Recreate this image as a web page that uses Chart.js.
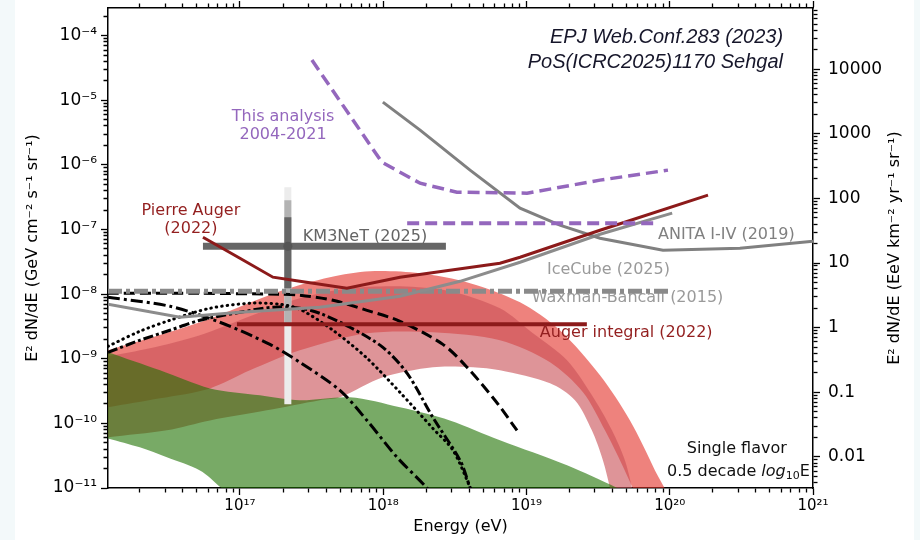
<!DOCTYPE html>
<html>
<head>
<meta charset="utf-8">
<script src="https://cdn.jsdelivr.net/npm/chart.js@4.4.1/dist/chart.umd.min.js"></script>
<style>
  body { margin: 0; background: #fff; }
  #wrap { width: 920px; height: 540px; position: relative; }
</style>
</head>
<body>
<div id="wrap"><canvas id="flux-chart"></canvas></div>
<script>
// energy in eV, flux E^2 dN/dE in GeV cm^-2 s^-1 sr^-1
const xMin = 1.2e16, xMax = 1e21;
const yMin = 1e-11, yMax = 2.68e-4;
const eevPerGev = 3.3e8; // right axis: EeV km^-2 yr^-1 sr^-1

// This analysis 2004-2021 (differential + integral)
const anaDiffE = [3.18e17, 9.79e17, 1.81e18, 3.27e18, 1.01e19, 3.26e19, 9.72e19];
const anaDiffF = [4.19e-5, 1.10e-6, 5.21e-7, 3.78e-7, 3.65e-7, 5.81e-7, 8.30e-7];
const anaIntE = [1.47e18, 8.28e19];
const anaIntF = [1.25e-7, 1.25e-7];

// ANITA I-IV (2019)
const anitaE = [9.95e17, 1.81e18, 4.04e18, 9.02e18, 1.71e19, 3.26e19, 8.97e19, 3.09e20, 1e21];
const anitaF = [9.37e-6, 3.45e-6, 8.30e-7, 2.14e-7, 1.17e-7, 7.33e-8, 4.79e-8, 5.14e-8, 6.59e-8];

// Pierre Auger (2022) differential + integral
const augerE = [5.52e16, 1e17, 1.70e17, 2.62e17, 5.58e17, 1.31e18, 2.92e18, 6.53e18, 9.02e18, 3.26e19, 1.85e20];
const augerF = [7.60e-8, 3.60e-8, 1.83e-8, 1.58e-8, 1.23e-8, 1.83e-8, 2.34e-8, 3.01e-8, 3.72e-8, 9.75e-8, 3.40e-7];
const augerIntE = [9.53e16, 2.64e19];
const augerIntF = [3.42e-9, 3.42e-9];

// KM3NeT (2025) event: central value, energy range, 1/2/3 sigma flux ranges
const km3E = [2.16e17];
const km3F = [5.52e-8];
const km3RangeE = [5.52e16, 2.74e18];
const km3Sig1 = [1.55e-7, 1.23e-8];
const km3Sig2 = [2.84e-7, 3.30e-9];
const km3Sig3 = [4.52e-7, 1.97e-10];

// IceCube (2025)
const iceE = [1.2e16, 3.81e16, 1e17, 3.61e17, 1.31e18, 3.44e18, 9.02e18, 3.26e19, 1.04e20];
const iceF = [6.97e-9, 4.39e-9, 5.24e-9, 6.27e-9, 9.27e-9, 1.58e-8, 3.12e-8, 8.45e-8, 1.79e-7];

// Waxman-Bahcall (2015)
const wbE = [1.2e16, 1e20];
const wbF = [1.11e-8, 1.11e-8];

// cosmogenic model curves (black)
const dotE = [1.2e16, 2.0e16, 3.25e16, 6.18e16, 1.175e17, 1.90e17, 2.62e17, 4.46e17, 7.71e17, 1.31e18, 2.22e18, 3.07e18, 4.04e18, 4.37e18];
const dotF = [1.56e-9, 2.66e-9, 3.94e-9, 6.04e-9, 7.23e-9, 6.97e-9, 5.83e-9, 2.76e-9, 1.02e-9, 3.02e-10, 8.38e-11, 3.82e-11, 1.02e-11, 6.4e-12];
const dashDotE = [1.2e16, 3.25e16, 7.24e16, 1.62e17, 2.62e17, 4.99e17, 7.71e17, 1.25e18, 2.02e18, 2.49e18];
const dashDotF = [8.95e-9, 6.49e-9, 3.67e-9, 1.67e-9, 8.81e-10, 3.24e-10, 1.11e-10, 2.98e-11, 1.0e-11, 5.4e-12];
const dashE = [1.2e16, 5.26e16, 1.90e17, 2.62e17, 4.46e17, 7.71e17, 1.31e18, 2.61e18, 3.85e18, 6.03e18, 8.59e18];
const dashF = [1.03e-8, 1.03e-8, 9.95e-9, 9.62e-9, 8.04e-9, 5.62e-9, 3.80e-9, 1.67e-9, 7.38e-10, 2.28e-10, 7.80e-11];
const longE = [1.2e16, 2.0e16, 3.25e16, 5.26e16, 1e17, 1.70e17, 2.62e17, 3.61e17, 5.86e17, 9.95e17, 1.47e18, 2.22e18, 3.44e18, 4.04e18, 4.37e18];
const longF = [1.26e-9, 1.93e-9, 2.76e-9, 3.94e-9, 5.24e-9, 6.27e-9, 6.04e-9, 5.06e-9, 3.07e-9, 1.50e-9, 5.96e-10, 1.24e-10, 2.67e-11, 1.02e-11, 6.4e-12];

// model bands: upper edge left->right, lower edge right->left
const salmonUpE = [1.2e16, 5.26e16, 1.90e17, 4.25e17, 8.09e17, 1.81e18, 4.04e18, 9.02e18, 1.71e19, 3.26e19, 5.28e19, 7.89e19, 9.72e19];
const salmonUpF = [1.35e-9, 3.67e-9, 1.11e-8, 1.83e-8, 2.26e-8, 2.10e-8, 1.48e-8, 7.48e-9, 2.76e-9, 5.55e-10, 1.11e-10, 1.87e-11, 6.4e-12];
const salmonLoE = [6.0e19, 5.53e19, 4.50e19, 3.53e19, 2.48e19, 1.46e19, 6.53e18, 2.22e18, 7.71e17, 2.62e17, 1.175e17, 6.18e16, 2.77e16, 1.2e16];
const salmonLoF = [6.4e-12, 9.86e-12, 2.67e-11, 7.80e-11, 3.02e-10, 8.81e-10, 1.93e-9, 2.57e-9, 2.48e-9, 1.35e-9, 6.62e-10, 3.48e-10, 2.44e-10, 1.77e-10];

const pinkUpE = [1.2e16, 2.355e16, 5.26e16, 1.175e17, 2.62e17, 5.86e17, 1.31e18, 2.92e18, 6.53e18, 1.11e19, 1.92e19, 3.01e19, 3.95e19, 4.87e19, 5.46e19, 5.62e19];
const pinkUpF = [1.09e-9, 1.45e-9, 2.31e-9, 4.55e-9, 8.63e-9, 1.23e-8, 1.32e-8, 1.11e-8, 6.04e-9, 2.48e-9, 9.46e-10, 2.28e-10, 7.80e-11, 2.67e-11, 9.86e-12, 6.4e-12];
const pinkLoE = [3.95e19, 3.83e19, 3.42e19, 2.86e19, 2.18e19, 1.46e19, 6.53e18, 4.24e18, 2.22e18, 9.95e17, 4.99e17, 3.61e17, 1.54e17, 6.18e16, 3.09e16, 1.2e16];
const pinkLoF = [6.4e-12, 9.86e-12, 2.67e-11, 7.80e-11, 2.28e-10, 4.17e-10, 6.62e-10, 7.38e-10, 7.38e-10, 5.16e-10, 2.53e-10, 2.28e-10, 1.59e-10, 1.11e-10, 7.80e-11, 6.08e-11];

const greenUpE = [1.2e16, 2.77e16, 6.18e16, 1.38e17, 2.62e17, 5.86e17, 1.31e18, 2.92e18, 6.53e18, 1.92e19, 4.29e19, 6.19e19];
const greenUpF = [1.26e-9, 6.62e-10, 3.48e-10, 2.72e-10, 2.28e-10, 2.53e-10, 1.77e-10, 1.11e-10, 5.46e-11, 2.24e-11, 1.0e-11, 6.4e-12];
const greenLoE = [1.07e17, 5.26e16, 3.09e16, 2.0e16, 1.2e16];
const greenLoF = [6.4e-12, 1.87e-11, 2.98e-11, 4.26e-11, 5.86e-11];

// tick labels
const xLabelled = [1e17, 1e18, 1e19, 1e20, 1e21];
const yLabelled = [1e-11, 1e-10, 1e-9, 1e-8, 1e-7, 1e-6, 1e-5, 1e-4];
const y2Labelled = [0.01, 0.1, 1, 10, 100, 1000, 10000];

// text notes placed in data coordinates
const notes = [
  {text: 'This analysis', e: 2.0e17, f: 5.5e-6, color: '#9467bd', align: 'center'},
  {text: '2004-2021', e: 2.0e17, f: 2.88e-6, color: '#9467bd', align: 'center'},
  {text: 'Pierre Auger', e: 4.55e16, f: 1.92e-7, color: '#931f1f', align: 'center'},
  {text: '(2022)', e: 4.55e16, f: 1.01e-7, color: '#931f1f', align: 'center'},
  {text: 'KM3NeT (2025)', e: 2.75e17, f: 7.6e-8, color: '#646464', align: 'left'},
  {text: 'ANITA I-IV (2019)', e: 8.28e19, f: 8.17e-8, color: '#808080', align: 'left'},
  {text: 'IceCube (2025)', e: 1.39e19, f: 2.34e-8, color: '#9a9a9a', align: 'left'},
  {text: 'Auger integral (2022)', e: 1.24e19, f: 2.48e-9, color: '#931f1f', align: 'left'},
  {text: 'Single flavor', e: 2.94e20, f: 4.1e-11, color: '#111', align: 'center'}
];
const wbNote = {text: 'Waxman-Bahcall (2015)', e: 1.09e19, f: 8.63e-9, color: '#9a9a9a', align: 'left'};
const refNotes = [
  {text: 'EPJ Web.Conf.283 (2023)', e: 6.18e20, f: 9.5e-5},
  {text: 'PoS(ICRC2025)1170 Sehgal', e: 6.18e20, f: 3.92e-5}
];
const binNote = {e: 9.5e20, f: 1.81e-11};

const SUP = '⁻⁰¹²³⁴⁵⁶⁷⁸⁹';
function sup(s) {
  return String(s).split('').map(c => SUP['-0123456789'.indexOf(c)]).join('');
}
function pts(E, F) {
  return E.map((e, i) => ({x: e, y: F[i]}));
}
function curve(label, E, F, color, width, dash, order, extra) {
  return Object.assign({
    label: label, data: pts(E, F), borderColor: color, borderWidth: width,
    borderDash: dash || [], pointRadius: 0, fill: false, tension: 0, order: order, clip: 0
  }, extra || {});
}
function band(label, upE, upF, loE, loF, color, order) {
  return {
    label: label, data: pts(upE.concat(loE), upF.concat(loF)),
    borderWidth: 0, borderColor: 'rgba(0,0,0,0)', backgroundColor: color,
    fill: 'shape', pointRadius: 0, tension: 0.3, capBezierPoints: false, order: order, clip: 0
  };
}
function logTicks(min, max) {
  let ticks = [];
  for (let d = Math.floor(Math.log10(min)); d <= Math.ceil(Math.log10(max)); d++) {
    for (let m = 1; m <= 9; m++) {
      let v = m * Math.pow(10, d);
      if (v >= min * 0.9999 && v <= max * 1.0001) ticks.push({value: v, major: m === 1});
    }
  }
  return ticks;
}
function isLabelled(v, list) {
  return list.some(t => Math.abs(v / t - 1) < 1e-6);
}
// minor ticks shorter: dash pattern, start side depends on axis position
const dashFromAxis = ctx => (ctx.tick && ctx.tick.major) ? [] : [4, 20];
const dashToAxis = ctx => (ctx.tick && ctx.tick.major) ? [] : [0, 2.5, 4, 20];

function axisGrid(dashFn) {
  return {drawOnChartArea: false, drawTicks: true, tickLength: 7, tickColor: '#000', tickWidth: 1.3, tickBorderDash: dashFn};
}
const border = {display: true, color: '#000', width: 1.5};

// fixed box sizes so the plot area sits where the original one does
function fixBox(size) {
  return scale => {
    if (scale.isHorizontal()) scale.height = size; else scale.width = size;
    scale.paddingTop = 0; scale.paddingBottom = 0;
    scale.paddingLeft = 0; scale.paddingRight = 0;
  };
}

Chart.defaults.font.family = '"DejaVu Sans", sans-serif';
Chart.defaults.color = '#000';

function drawNote(ctx, n, xs, ys) {
  ctx.fillStyle = n.color;
  ctx.textAlign = n.align;
  ctx.fillText(n.text, xs.getPixelForValue(n.e), ys.getPixelForValue(n.f));
}

const extras = {
  id: 'extras',
  beforeDraw(chart) {
    let ctx = chart.ctx;
    ctx.save();
    ctx.fillStyle = '#fff';
    ctx.fillRect(0, 0, chart.width, chart.height);
    ctx.fillStyle = '#f3f9fa';
    ctx.fillRect(0, 0, 15, chart.height);
    ctx.fillRect(chart.width - 6, 0, 6, chart.height);
    ctx.restore();
  },
  beforeDatasetsDraw(chart) {
    let ctx = chart.ctx;
    ctx.save();
    ctx.font = '16px "DejaVu Sans"';
    ctx.textBaseline = 'middle';
    drawNote(ctx, wbNote, chart.scales.x, chart.scales.y);
    ctx.restore();
  },
  afterDatasetsDraw(chart) {
    let ctx = chart.ctx, xs = chart.scales.x, ys = chart.scales.y;
    ctx.save();
    ctx.font = '16px "DejaVu Sans"';
    ctx.textBaseline = 'middle';
    notes.forEach(n => drawNote(ctx, n, xs, ys));

    // 0.5 decade log10 E
    let px = xs.getPixelForValue(binNote.e), py = ys.getPixelForValue(binNote.f);
    let p1 = '0.5 decade ', p2 = 'log', p3 = '10', p4 = 'E';
    ctx.font = '16px "DejaVu Sans"';
    let w1 = ctx.measureText(p1).width, w4 = ctx.measureText(p4).width;
    ctx.font = 'italic 16px "DejaVu Sans"';
    let w2 = ctx.measureText(p2).width;
    ctx.font = '11px "DejaVu Sans"';
    let w3 = ctx.measureText(p3).width;
    let x0 = px - (w1 + w2 + w3 + w4);
    ctx.fillStyle = '#111';
    ctx.textAlign = 'left';
    ctx.font = '16px "DejaVu Sans"';
    ctx.fillText(p1, x0, py);
    ctx.font = 'italic 16px "DejaVu Sans"';
    ctx.fillText(p2, x0 + w1, py);
    ctx.font = '11px "DejaVu Sans"';
    ctx.fillText(p3, x0 + w1 + w2, py + 5);
    ctx.font = '16px "DejaVu Sans"';
    ctx.fillText(p4, x0 + w1 + w2 + w3, py);

    // references
    ctx.font = 'italic 20px "Liberation Sans"';
    ctx.fillStyle = '#16162a';
    ctx.textAlign = 'right';
    refNotes.forEach(n => ctx.fillText(n.text, xs.getPixelForValue(n.e), ys.getPixelForValue(n.f)));
    ctx.restore();
  },
  afterDraw(chart) {
    let ctx = chart.ctx, area = chart.chartArea;
    ctx.save();
    ctx.translate(chart.width - 25, (area.top + area.bottom) / 2);
    ctx.rotate(-Math.PI / 2);
    ctx.font = '16px "DejaVu Sans"';
    ctx.fillStyle = '#000';
    ctx.textAlign = 'center';
    ctx.textBaseline = 'middle';
    ctx.fillText('E² dN/dE (EeV km⁻² yr⁻¹ sr⁻¹)', 0, 0);
    ctx.restore();
  }
};

const datasets = [
  curve('This analysis (diff.)', anaDiffE, anaDiffF, '#9467bd', 3.5, [12, 6], 1),
  curve('This analysis (int.)', anaIntE, anaIntF, '#9467bd', 4, [12, 6], 1),
  curve('Auger integral (2022)', augerIntE, augerIntF, '#8c1a1a', 4, [], 2),
  curve('Pierre Auger (2022)', augerE, augerF, '#8c1a1a', 3, [], 2),
  curve('ANITA I-IV (2019)', anitaE, anitaF, '#808080', 3, [], 3),
  curve('IceCube (2025)', iceE, iceF, '#8c8c8c', 3, [], 3),
  curve('Waxman-Bahcall (2015)', wbE, wbF, '#8a8a8a', 5, [14, 4, 4, 4], 4),
  curve('model dotted', dotE, dotF, '#000', 3, [0.5, 5], 5, {tension: 0.3, borderCapStyle: 'round'}),
  curve('model dash-dot', dashDotE, dashDotF, '#000', 3, [12, 4, 3, 4], 5, {tension: 0.3}),
  curve('model dashed', dashE, dashF, '#000', 3, [11, 5], 5, {tension: 0.3}),
  curve('model long dash-dot', longE, longF, '#000', 3, [10, 3, 3, 3], 5, {tension: 0.3}),
  {label: 'KM3NeT point', data: pts(km3E, km3F), showLine: false, pointRadius: 4.5,
   pointBackgroundColor: '#555', pointBorderWidth: 0, order: 7, clip: 0},
  curve('KM3NeT range', km3RangeE, km3F.concat(km3F), '#666', 7, [], 8),
  curve('KM3NeT 1 sigma', km3E.concat(km3E), km3Sig1, '#666', 7, [], 9),
  curve('KM3NeT 2 sigma', km3E.concat(km3E), km3Sig2, '#b3b3b3', 7, [], 10),
  curve('KM3NeT 3 sigma', km3E.concat(km3E), km3Sig3, '#ececec', 7, [], 11),
  band('green band', greenUpE, greenUpF, greenLoE, greenLoF, 'rgba(30,113,0,0.6)', 20),
  band('pink band', pinkUpE, pinkUpF, pinkLoE, pinkLoF, 'rgba(202,82,89,0.62)', 21),
  band('salmon band', salmonUpE, salmonUpF, salmonLoE, salmonLoF, 'rgba(227,47,38,0.6)', 22)
];

new Chart(document.getElementById('flux-chart'), {
  type: 'line',
  data: {datasets: datasets},
  options: {
    responsive: true,
    maintainAspectRatio: false,
    animation: false,
    events: [],
    layout: {padding: 0},
    plugins: {legend: {display: false}, tooltip: {enabled: false}},
    scales: {
      x: {
        type: 'logarithmic', position: 'bottom', min: xMin, max: xMax, bounds: 'data',
        afterBuildTicks: axis => { axis.ticks = logTicks(xMin, xMax); },
        afterFit: fixBox(52),
        grid: axisGrid(dashFromAxis), border: border,
        ticks: {
          autoSkip: false, maxRotation: 0, minRotation: 0, padding: 2,
          font: {size: 15},
          callback: v => isLabelled(v, xLabelled) ? '10' + sup(Math.round(Math.log10(v))) : ''
        },
        title: {display: true, text: 'Energy (eV)', font: {size: 16}, padding: {top: 0, bottom: 3.4}}
      },
      xTop: {
        type: 'logarithmic', position: 'top', min: xMin, max: xMax, bounds: 'data',
        afterBuildTicks: axis => { axis.ticks = logTicks(xMin, xMax); },
        afterFit: fixBox(8),
        grid: axisGrid(dashToAxis), border: border,
        ticks: {display: false, autoSkip: false}
      },
      y: {
        type: 'logarithmic', position: 'left', min: yMin, max: yMax, bounds: 'data',
        afterBuildTicks: axis => { axis.ticks = logTicks(yMin, yMax); },
        afterFit: fixBox(108),
        grid: axisGrid(dashToAxis), border: border,
        ticks: {
          autoSkip: false, padding: 4, font: {size: 17},
          callback: v => isLabelled(v, yLabelled) ? '10' + sup(Math.round(Math.log10(v))) : ''
        },
        title: {display: true, text: 'E² dN/dE (GeV cm⁻² s⁻¹ sr⁻¹)', font: {size: 16}, padding: {top: 23, bottom: 0}}
      },
      y2: {
        type: 'logarithmic', position: 'right', min: yMin * eevPerGev, max: yMax * eevPerGev, bounds: 'data',
        afterBuildTicks: axis => { axis.ticks = logTicks(yMin * eevPerGev, yMax * eevPerGev); },
        afterFit: fixBox(107),
        grid: axisGrid(dashFromAxis), border: border,
        ticks: {
          autoSkip: false, padding: 8, font: {size: 17},
          callback: v => isLabelled(v, y2Labelled) ? String(v) : ''
        }
      }
    }
  },
  plugins: [extras]
});
</script>
</body>
</html>
